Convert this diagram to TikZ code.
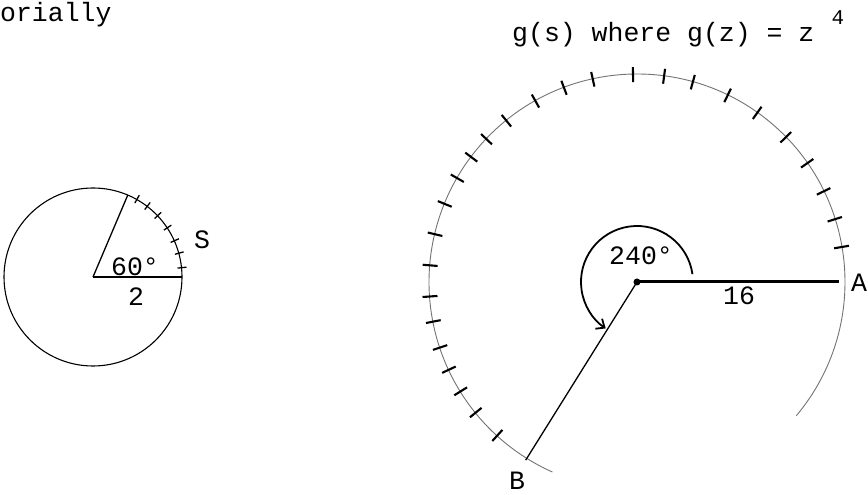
\documentclass[tikz,border=0pt]{standalone}
\usepackage{fontspec}
\newfontfamily\tw{Liberation Mono}
\usetikzlibrary{arrows.meta}
\begin{document}
\begin{tikzpicture}[x=1pt,y=1pt,
  lbl/.style={font=\tw\fontsize{26.5}{29}\selectfont, inner sep=0pt},
  faint/.style={draw=black!55, line width=0.9pt},
  rim/.style={line width=1.1pt},
  bigtick/.style={line width=2.1pt},
  smalltick/.style={line width=1.3pt},
  thickradius/.style={line width=2.6pt},
  thinradius/.style={line width=1.3pt},
  anglearc/.style={line width=1.8pt, -{Straight Barb[length=7pt,width=12pt]}}]
\useasboundingbox (0,0) rectangle (868,495);

% texts
\node[lbl, anchor=base west] (cut) at (0,473) {orially};
\node[lbl, anchor=base west] (title) at (512,453) {g(s) where g(z) = z};
\node[lbl, font=\tw\fontsize{21}{23}\selectfont] (exp) at (838,477) {4};

% small circle
\begin{scope}[shift={(93,218)}]
  \coordinate (O1) at (0,0);
  \coordinate (E1) at (0:89);
  \coordinate (P1) at (67:89);
  \draw[rim] (O1) circle[radius=89];
  \draw[thickradius] (O1) -- (E1);
  \draw[thinradius] (O1) -- (P1);
  \foreach \a in {6,15.5,24,33.5,43.5,52.5,60.5}
    \draw[smalltick] (\a:85) -- (\a:94);
  \node[lbl] (sixty) at (42,10) {60°};
  \node[lbl] (two) at (43,-20) {2};
  \node[lbl] (S) at (109,37) {S};
\end{scope}

% big circle
\begin{scope}[shift={(637,213)}]
  \coordinate (O2) at (0,0);
  \coordinate (A) at (0:202);
  \coordinate (B) at (238:210);
  \draw[faint] (-40:208) arc[start angle=-40, end angle=246, radius=208];
  \foreach \a in {9.7,17.6,25.9,34.9,44.2,54.6,64.1,74.4,82.5,91.1,102.3,110.6,119.3,129,136.5,143,150,157.9,166.7,175.4,184,191,198.4,205,211.8,219,227.7}
    \draw[bigtick] (\a:200) -- (\a:215);
  \draw[thickradius, line width=3pt] (O2) -- (A);
  \draw[thinradius] (O2) -- (B);
  \fill (O2) circle[radius=3.5];
  \draw[anglearc] (8:56) arc[start angle=8, end angle=236, radius=56];
  \node[lbl] (ang) at (4,26) {240°};
  \node[lbl] (sixteen) at (102,-14) {16};
  \node[lbl] (Alab) at (222,-1) {A};
  \node[lbl] (Blab) at (-120,-199) {B};
\end{scope}
\end{tikzpicture}
\end{document}
